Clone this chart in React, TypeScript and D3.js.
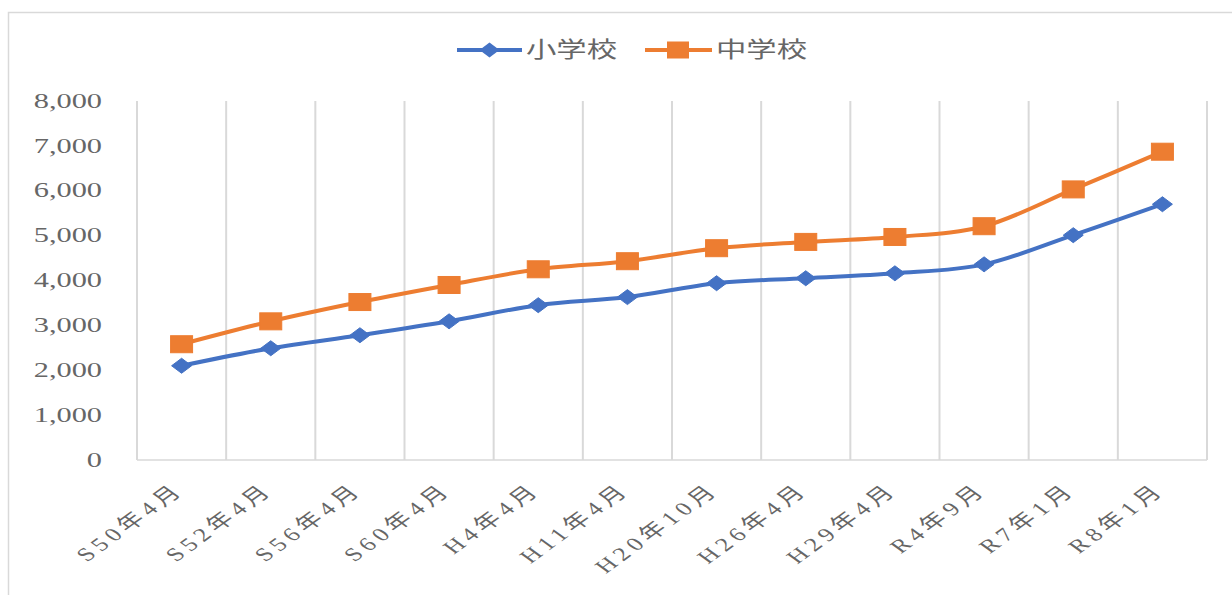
import React from "react";
import * as d3 from "d3";

const categories = [
  "S50年4月", "S52年4月", "S56年4月", "S60年4月", "H4年4月", "H11年4月",
  "H20年10月", "H26年4月", "H29年4月", "R4年9月", "R7年1月", "R8年1月",
];
const elementary = [2100, 2490, 2780, 3090, 3450, 3630, 3940, 4050, 4160, 4360, 5010, 5700];
const juniorHigh = [2580, 3090, 3520, 3900, 4250, 4430, 4720, 4860, 4970, 5210, 6030, 6870];
const seriesNames = ["小学校", "中学校"];
const yTicks = [0, 1000, 2000, 3000, 4000, 5000, 6000, 7000, 8000];

const W = 1232;
const H = 595;
const SX = 1.38;
const FONT = "'Liberation Serif', 'DejaVu Serif', 'Noto Sans CJK JP', serif";
const BLUE = "#4472C4";
const ORANGE = "#ED7D31";
const GRID = "#D9D9D9";
const TEXT = "#666666";

export default function App() {
  const x = d3.scaleBand<string>().domain(categories).range([137, 1207]).padding(0);
  const y = d3.scaleLinear().domain([0, 8000]).range([460, 101]);
  const cx = (c: string) => (x(c) as number) + x.bandwidth() / 2;

  const line = d3
    .line<number>()
    .x((_, i) => cx(categories[i]))
    .y((v) => y(v))
    .curve(d3.curveCatmullRom.alpha(0));

  const diamond = (px: number, py: number) =>
    `M${px - 10},${py} L${px},${py - 7.5} L${px + 10},${py} L${px},${py + 7.5} Z`;

  const gridXs = [...categories.map((c) => x(c) as number), x.range()[1]];

  return (
    <svg
      width={W}
      height={H}
      style={{ position: "fixed", left: 0, top: 0, background: "#fff" }}
      fontFamily={FONT}
    >
      <rect x={0} y={0} width={W} height={H} fill="#fff" />
      <rect x={8.5} y={12.5} width={W + 20} height={H + 20} fill="#fff" stroke={GRID} strokeWidth={1.5} />

      {/* vertical gridlines */}
      {gridXs.map((gx, i) => (
        <line key={i} x1={gx} x2={gx} y1={y(8000)} y2={y(0)} stroke={GRID} strokeWidth={2} />
      ))}
      {/* baseline */}
      <line x1={x.range()[0]} x2={x.range()[1]} y1={y(0)} y2={y(0)} stroke={GRID} strokeWidth={1.5} />

      {/* y tick labels */}
      {yTicks.map((t) => (
        <text
          key={t}
          transform={`translate(102,${y(t) - 1}) scale(${SX},1)`}
          textAnchor="end"
          dy="0.35em"
          fontSize={22}
          fill={TEXT}
        >
          {d3.format(",")(t)}
        </text>
      ))}

      {/* x tick labels */}
      {categories.map((c) => (
        <text
          key={c}
          transform={`translate(${cx(c) + 4},${y(0) + 31}) scale(${SX},1) rotate(-45)`}
          textAnchor="end"
          fontSize={19}
          letterSpacing={4}
          fill={TEXT}
        >
          {c}
        </text>
      ))}

      {/* lines */}
      <path d={line(elementary) as string} fill="none" stroke={BLUE} strokeWidth={4} />
      <path d={line(juniorHigh) as string} fill="none" stroke={ORANGE} strokeWidth={4} />

      {/* markers */}
      {elementary.map((v, i) => (
        <path key={"e" + i} d={diamond(cx(categories[i]), y(v))} fill={BLUE} stroke={BLUE} strokeWidth={1} />
      ))}
      {juniorHigh.map((v, i) => (
        <rect
          key={"j" + i}
          x={cx(categories[i]) - 11}
          y={y(v) - 8.5}
          width={22}
          height={17}
          fill={ORANGE}
          stroke={ORANGE}
          strokeWidth={1}
        />
      ))}

      {/* legend */}
      <line x1={457} x2={522} y1={50} y2={50} stroke={BLUE} strokeWidth={4} />
      <path d={diamond(489.5, 50)} fill={BLUE} />
      <text transform={`translate(526,49) scale(${SX},1)`} dy="0.35em" fontSize={22} fill={TEXT}>
        {seriesNames[0]}
      </text>
      <line x1={645} x2={712} y1={50} y2={50} stroke={ORANGE} strokeWidth={4} />
      <rect x={667} y={41.5} width={22} height={17} fill={ORANGE} />
      <text transform={`translate(716,49) scale(${SX},1)`} dy="0.35em" fontSize={22} fill={TEXT}>
        {seriesNames[1]}
      </text>
    </svg>
  );
}
